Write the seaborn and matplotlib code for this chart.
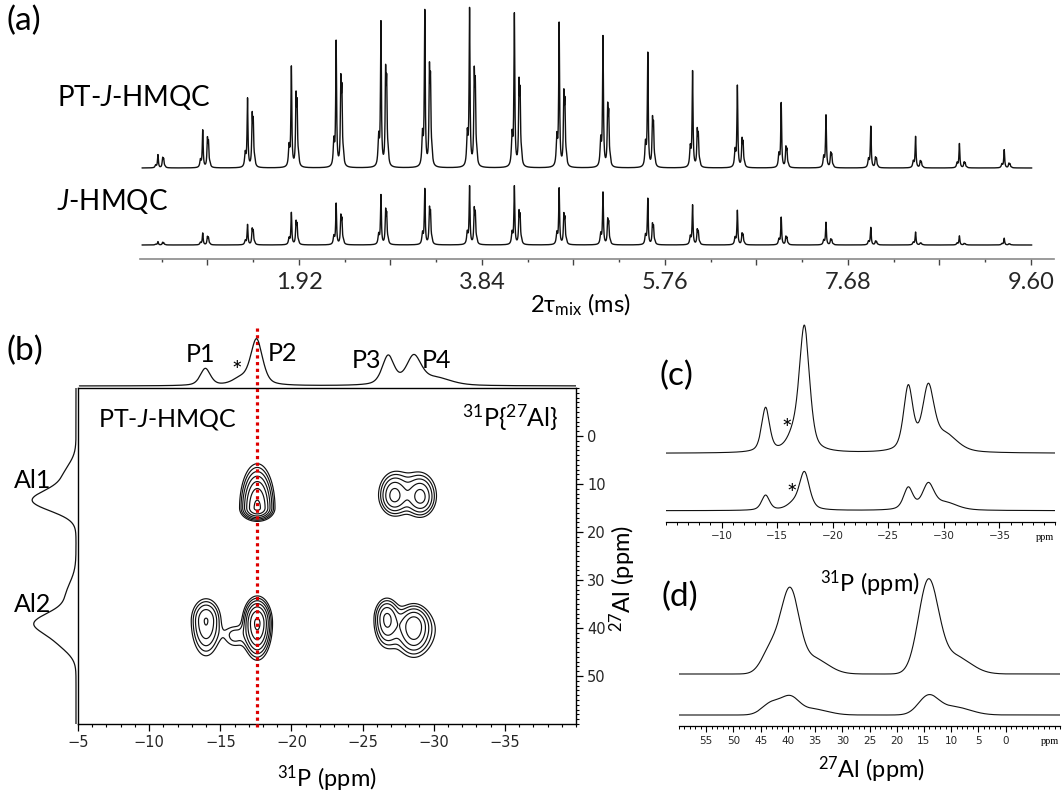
import numpy as np
import matplotlib
matplotlib.use("Agg")
import matplotlib.pyplot as plt
import seaborn as sns

# ---------------------------------------------------------------- data
# (a) build-up: one short 31P spectrum per mixing time, two main lines each
mix_time_ms = [0.44, 0.91, 1.38, 1.84, 2.31, 2.78, 3.24, 3.71, 4.18, 4.65,
               5.11, 5.58, 6.05, 6.52, 6.98, 7.45, 7.92, 8.39, 8.85, 9.32]
pt_hmqc_main = [13, 37, 68, 99, 124, 143, 154, 156, 151, 142,
                129, 113, 95, 81, 64, 52, 41, 31, 24, 18]
pt_hmqc_minor = [9, 26, 47, 64, 78, 86, 88, 84, 75, 65,
                 54, 43, 33, 25, 18, 13, 9, 6, 5, 4]
j_hmqc_main = [3.3, 11.7, 20, 31.7, 40.7, 49, 55, 57.7, 57.7, 55.7,
               51.7, 45.7, 39.3, 34, 27.3, 22.3, 17.3, 12.7, 9, 6.7]
j_hmqc_minor = [2.3, 7.3, 14.3, 20.7, 25.7, 30.7, 32.3, 31.7, 29.3, 26.7,
                22.3, 18.3, 13.3, 10, 7.3, 5, 3.3, 1.7, 1.3, 1.0]
mix_ticks_ms = [0.96, 1.92, 2.88, 3.84, 4.80, 5.76, 6.72, 7.68, 8.64, 9.60]
mix_tick_labels = ["", "1.92", "", "3.84", "", "5.76", "", "7.68", "", "9.60"]
mix_minor_ms = [0.48, 1.44, 2.40, 3.36, 4.32, 5.28, 6.24, 7.20, 8.16, 9.12]

# (b) 31P projection: P1, *, P2, P3, P4, tail
proj_p_ppm = [-13.95, -16.4, -17.55, -26.8, -28.6, -30.2]
proj_p_height = [17, 6, 46, 29, 28, 7]
proj_p_fwhm = [0.85, 1.3, 1.0, 1.0, 1.25, 2.5]

# (b) 27Al projection: Al1 (tail, main), Al2 (tail, main, shoulder)
proj_al_ppm = [8.5, 13.5, 33.5, 39.0, 43.0]
proj_al_height = [12, 42, 10, 38, 14]
proj_al_fwhm = [6, 5, 7, 5, 5]

# (b) 2D correlation peaks: 31P / 27Al position, amplitude, widths
# (27Al width given separately toward lower and higher ppm)
cross_p31 = [-17.6, -27.2, -29.1, -28.2,
             -14.0, -17.6, -16.0, -26.7, -28.6, -28.6]
cross_al27 = [15.0, 12.5, 12.8, 11.8,
              38.5, 39.0, 41.5, 38.0, 39.5, 40.5]
cross_amp = [1.0, 0.40, 0.40, 0.15,
             0.45, 1.0, 0.17, 0.45, 0.45, 0.16]
cross_sig_p = [0.58, 0.55, 0.55, 1.3,
               0.6, 0.5, 0.55, 0.5, 0.6, 1.3]
cross_sig_al_low = [4.3, 2.5, 2.5, 3.5,
                    2.65, 2.65, 1.6, 2.4, 2.4, 3.0]
cross_sig_al_high = [1.3, 2.2, 2.2, 3.2,
                     4.2, 3.6, 2.0, 3.2, 3.2, 3.6]
contour_levels = [0.10, 0.145, 0.21, 0.305, 0.44, 0.64, 0.93]

# (c) 1D 31P slices: P1, *, P2, P3, P4, tail
c_ppm = [-13.96, -16.4, -17.45, -26.8, -28.6, -30.2]
c_pt_height = [44, 12, 125, 64, 62, 16]
c_j_height = [15, 5, 38, 22, 25, 7]
c_fwhm = [0.85, 1.3, 1.1, 1.0, 1.25, 2.5]

# (d) 1D 27Al slices: Al2 shoulder, Al2, Al2 tail, Al1, Al1 tail
d_ppm = [43.0, 39.6, 35.5, 14.2, 9.5]
d_pt_height = [26, 78, 16, 90, 18]
d_j_height = [12, 16, 6, 18, 8]
d_fwhm = [4.0, 3.8, 6.5, 4.3, 7.0]

# ---------------------------------------------------------------- helpers
W, H = 1062, 794
sns.set_theme(style="white")
plt.rcParams["font.family"] = ["Lato", "DejaVu Sans"]
plt.rcParams["mathtext.fontset"] = "custom"
plt.rcParams["mathtext.rm"] = "Lato"
plt.rcParams["mathtext.it"] = "Lato:italic"
plt.rcParams["axes.unicode_minus"] = True

fig = plt.figure(figsize=(W / 100, H / 100), dpi=100)


def px_axes(x0, y0, x1, y1):
    return fig.add_axes([x0 / W, 1 - y1 / H, (x1 - x0) / W, (y1 - y0) / H])


def ftext(x, y, s, **kw):
    kw.setdefault("ha", "center")
    kw.setdefault("va", "center")
    kw.setdefault("color", "black")
    fig.text(x / W, 1 - y / H, s, **kw)


def lor(x, c, hw):
    return 1.0 / (1.0 + ((x - c) / hw) ** 2)


def voigt_sum(x, centers, heights, fwhms, eta):
    y = np.zeros_like(x)
    for c, h, w in zip(centers, heights, fwhms):
        s = w / 2.3548
        g = np.exp(-0.5 * ((x - c) / s) ** 2)
        l = lor(x, c, w / 2)
        y += h * (eta * l + (1 - eta) * g)
    return y


def clean(ax):
    ax.set_facecolor("none")
    for sp in ax.spines.values():
        sp.set_visible(False)
    ax.set_xticks([])
    ax.set_yticks([])
    ax.set_xlabel("")
    ax.set_ylabel("")


def minus(v):
    return f"{v:g}".replace("-", "\u2212")


LW = 0.9
INK = "#111111"

# ---------------------------------------------------------------- (a)
ax_a = px_axes(140, 0, 1054, 259)
clean(ax_a)
t = np.arange(0.273, 9.61, 0.0008)
hw = 0.0055  # half width of each line (ms)


def buildup(main, minor, base):
    y = np.full_like(t, base, dtype=float)
    for c, a, b in zip(mix_time_ms, main, minor):
        y += a * (lor(t, c, hw) + 0.2 * lor(t, c - 0.024, hw * 1.4))
        y += b * (lor(t, c + 0.049, hw) + 0.85 * lor(t, c + 0.060, hw)
                  + 0.12 * lor(t, c + 0.075, hw * 1.4))
    return y


y_pt = buildup(pt_hmqc_main, pt_hmqc_minor, 91)
y_j = buildup(j_hmqc_main, j_hmqc_minor, 14)
sns.lineplot(x=t, y=y_pt, ax=ax_a, color=INK, lw=1.0, estimator=None)
sns.lineplot(x=t, y=y_j, ax=ax_a, color=INK, lw=1.0, estimator=None)
ax_a.set_xlim((140 - 116) / 95.3, (1054 - 116) / 95.3)
ax_a.set_ylim(0, 259)
ax_a.spines["bottom"].set_visible(True)
ax_a.spines["bottom"].set_color("#8a8a8a")
ax_a.spines["bottom"].set_linewidth(1.2)
ax_a.set_xticks(mix_ticks_ms, mix_tick_labels, fontsize=17)
ax_a.set_xticks(mix_minor_ms, minor=True)
ax_a.tick_params(axis="x", which="major", direction="out", length=4.5,
                 width=1.0, color="#444444", pad=5, bottom=True)
ax_a.tick_params(axis="x", which="minor", direction="out", length=2.2,
                 width=1.0, color="#444444", bottom=True)

ftext(7, 21, "(a)", fontsize=24, ha="left")
ftext(57, 97, "PT-$\\mathit{J}$-HMQC", fontsize=20, ha="left")
ftext(57, 202, "$\\mathit{J}$-HMQC", fontsize=20, ha="left")
ftext(580, 305, "2\u03c4$_{\\mathrm{mix}}$ (ms)", fontsize=17)

# ---------------------------------------------------------------- (b)
ax_b = px_axes(78, 388, 576, 724)
p_grid = np.linspace(-5, -40, 600)
al_grid = np.linspace(-10, 60, 600)
PP, AA = np.meshgrid(p_grid, al_grid)
Z = np.zeros_like(PP)
for cp, ca, amp, sp, sl, sh in zip(cross_p31, cross_al27, cross_amp,
                                   cross_sig_p, cross_sig_al_low,
                                   cross_sig_al_high):
    sa = np.where(AA < ca, sl, sh)
    Z += amp * np.exp(-0.5 * (((PP - cp) / sp) ** 2 + ((AA - ca) / sa) ** 2))
ax_b.contour(PP, AA, Z, levels=contour_levels, colors=INK, linewidths=0.85)
ax_b.set_xlim(-5, -40)
ax_b.set_ylim(60, -10)
ax_b.set_facecolor("none")
for sp in ax_b.spines.values():
    sp.set_visible(True)
    sp.set_color("black")
    sp.set_linewidth(1.0)
b_xt = [-5, -10, -15, -20, -25, -30, -35]
ax_b.set_xticks(b_xt, [minus(v) for v in b_xt], fontsize=10.5,
                fontfamily="DejaVu Sans")
ax_b.set_xticks(np.arange(-5, -41, -1), minor=True)
b_yt = [0, 10, 20, 30, 40, 50]
ax_b.yaxis.tick_right()
ax_b.set_yticks(b_yt, [str(v) for v in b_yt], fontsize=10.5,
                fontfamily="DejaVu Sans")
ax_b.set_yticks(np.arange(-10, 61, 1), minor=True)
ax_b.tick_params(axis="both", which="major", direction="out", length=5,
                 width=0.9, color="black", pad=3)
ax_b.tick_params(axis="both", which="minor", direction="out", length=2.5,
                 width=0.8, color="black")
ax_b.tick_params(axis="x", bottom=True, which="both")
ax_b.tick_params(axis="y", right=True, left=False, which="both")
ax_b.set_xlabel("")
ax_b.set_ylabel("")
ax_b.grid(False)
# vertical guide through P2
ax_b.plot([proj_p_ppm[2], proj_p_ppm[2]], [-22.5, 60.8], color="#dd0000",
          lw=2.3, ls=(0, (1, 1.1)), clip_on=False, zorder=5)

# 31P projection on top
ax_top = px_axes(78, 320, 576, 390)
clean(ax_top)
p_line = np.linspace(-5.1, -40, 1500)
sns.lineplot(x=p_line, y=voigt_sum(p_line, proj_p_ppm, proj_p_height,
                                   proj_p_fwhm, 0.5),
             ax=ax_top, color=INK, lw=LW, estimator=None)
ax_top.set_xlim(-5, -40)
ax_top.set_ylim(-4, 66)

# 27Al projection on the left
ax_left = px_axes(10, 388, 80, 724)
clean(ax_left)
al_line = np.linspace(-10, 60, 1200)
sns.lineplot(x=voigt_sum(al_line, proj_al_ppm, proj_al_height,
                         proj_al_fwhm, 0.0),
             y=al_line, ax=ax_left, color=INK, lw=LW, estimator=None,
             sort=False, orient="y")
ax_left.set_xlim(66, -4)
ax_left.set_ylim(60, -10)

ftext(7, 351, "(b)", fontsize=24, ha="left")
ftext(200, 355, "P1", fontsize=18)
ftext(237, 372, "*", fontsize=18)
ftext(282, 353, "P2", fontsize=18)
ftext(367, 360, "P3", fontsize=18)
ftext(437, 360, "P4", fontsize=18)
ftext(33, 480, "Al1", fontsize=18)
ftext(33, 605, "Al2", fontsize=18)
ftext(98, 420, "PT-$\\mathit{J}$-HMQC", fontsize=18, ha="left")
ftext(558, 418, "$^{31}$P{$^{27}$Al}", fontsize=18, ha="right")
ftext(327, 779, "$^{31}$P (ppm)", fontsize=17)
ftext(623, 578, "$^{27}$Al (ppm)", fontsize=17, rotation=90)

# ---------------------------------------------------------------- (c)
ax_c = px_axes(666, 320, 1055, 521.7)
clean(ax_c)
pc = np.linspace(-5, -40, 1500)
sns.lineplot(x=pc, y=68.4 + voigt_sum(pc, c_ppm, c_pt_height, c_fwhm, 0.5),
             ax=ax_c, color=INK, lw=0.8, estimator=None)
sns.lineplot(x=pc, y=11 + voigt_sum(pc, c_ppm, c_j_height, c_fwhm, 0.5),
             ax=ax_c, color=INK, lw=0.8, estimator=None)
ax_c.set_xlim(-5, -40)
ax_c.set_ylim(0, 201.7)
ax_c.spines["bottom"].set_visible(True)
ax_c.spines["bottom"].set_color("black")
ax_c.spines["bottom"].set_linewidth(0.9)
c_xt = [-10, -15, -20, -25, -30, -35]
ax_c.set_xticks(c_xt, [minus(v) for v in c_xt], fontsize=7.5,
                fontfamily="DejaVu Sans")
ax_c.set_xticks(np.arange(-5, -41, -1), minor=True)
ax_c.tick_params(axis="x", which="major", direction="out", length=4,
                 width=0.8, color="black", pad=3, bottom=True)
ax_c.tick_params(axis="x", which="minor", direction="out", length=2,
                 width=0.7, color="black", bottom=True)
ftext(1045, 537, "ppm", fontsize=7.5, fontfamily="Liberation Serif")
ftext(676, 376, "(c)", fontsize=24)
ftext(787, 429, "*", fontsize=18)
ftext(792, 494, "*", fontsize=18)
ftext(870, 584, "$^{31}$P (ppm)", fontsize=17)

# ---------------------------------------------------------------- (d)
ax_d = px_axes(679, 560, 1060, 726)
clean(ax_d)
al_d = np.linspace(60, -10, 1500)
sns.lineplot(x=al_d, y=52 + voigt_sum(al_d, d_ppm, d_pt_height, d_fwhm, 0.0),
             ax=ax_d, color=INK, lw=0.8, estimator=None)
sns.lineplot(x=al_d, y=11 + voigt_sum(al_d, d_ppm, d_j_height, d_fwhm, 0.0),
             ax=ax_d, color=INK, lw=0.8, estimator=None)
ax_d.set_xlim(60, -10)
ax_d.set_ylim(0, 166)
ax_d.spines["bottom"].set_visible(True)
ax_d.spines["bottom"].set_color("black")
ax_d.spines["bottom"].set_linewidth(0.9)
d_xt = [55, 50, 45, 40, 35, 30, 25, 20, 15, 10, 5, 0]
ax_d.set_xticks(d_xt, [str(v) for v in d_xt], fontsize=7.5,
                fontfamily="DejaVu Sans")
ax_d.set_xticks(np.arange(60, -11, -1), minor=True)
ax_d.tick_params(axis="x", which="major", direction="out", length=4,
                 width=0.8, color="black", pad=3, bottom=True)
ax_d.tick_params(axis="x", which="minor", direction="out", length=2,
                 width=0.7, color="black", bottom=True)
ftext(1050, 742, "ppm", fontsize=7.5, fontfamily="Liberation Serif")
ftext(680, 597, "(d)", fontsize=24)
ftext(872, 770, "$^{27}$Al (ppm)", fontsize=17)

fig.savefig("out.png", dpi=100, facecolor="white")
